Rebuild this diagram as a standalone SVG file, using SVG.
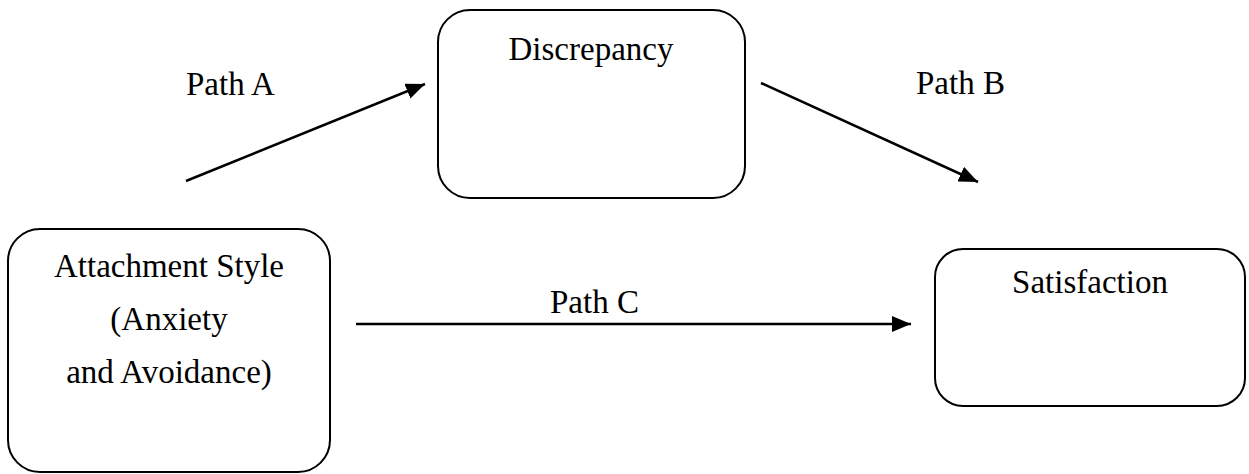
<svg xmlns="http://www.w3.org/2000/svg" width="1249" height="474" viewBox="0 0 1249 474">
<style>
.box{fill:#fff;stroke:#000;stroke-width:2}
.lbl{font-family:"Liberation Serif","Times New Roman",serif;font-size:33px;fill:#000}
.mid{text-anchor:middle}
.conn{stroke:#000;stroke-width:2.5;fill:none}
</style>
<defs>
<marker id="arr" markerUnits="userSpaceOnUse" markerWidth="20" markerHeight="16" refX="19" refY="8" orient="auto">
<path d="M0,0 L19,8 L0,16 z" fill="#000"/>
</marker>
</defs>
<rect width="1249" height="474" fill="#fff"/>
<g id="connectors">
<line class="conn" x1="186" y1="181" x2="425" y2="84" marker-end="url(#arr)"/>
<line class="conn" x1="761" y1="83" x2="978" y2="182" marker-end="url(#arr)"/>
<line class="conn" x1="356" y1="324" x2="911" y2="324" marker-end="url(#arr)"/>
<text class="lbl" x="186" y="95">Path A</text>
<text class="lbl" x="916" y="94">Path B</text>
<text class="lbl" x="550" y="313">Path C</text>
</g>
<g id="discrepancy">
<rect class="box" x="438" y="10" width="307" height="188" rx="32"/>
<text class="lbl mid" x="591" y="60">Discrepancy</text>
</g>
<g id="attachment">
<rect class="box" x="8" y="229" width="322" height="243" rx="32"/>
<text class="lbl mid" x="169" y="277">Attachment Style</text>
<text class="lbl mid" x="169" y="330">(Anxiety</text>
<text class="lbl mid" x="169" y="383">and Avoidance)</text>
</g>
<g id="satisfaction">
<rect class="box" x="935" y="249" width="310" height="157" rx="28"/>
<text class="lbl mid" x="1090" y="293">Satisfaction</text>
</g>
</svg>
